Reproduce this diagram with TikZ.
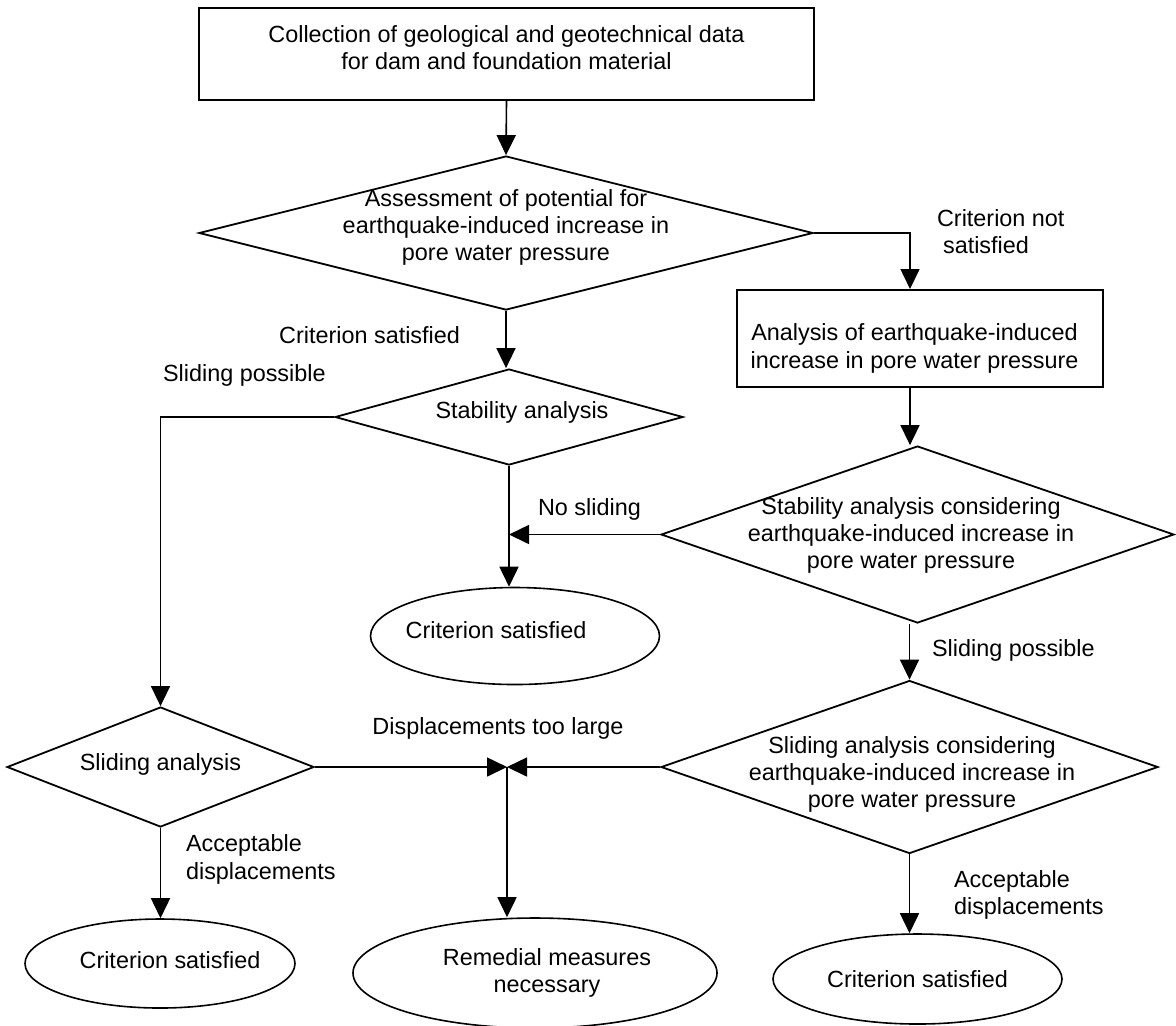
\documentclass[tikz,border=0pt]{standalone}
\usepackage{fontspec}
\setmainfont{Liberation Sans}
\usetikzlibrary{shapes.geometric, arrows.meta}

\begin{document}
\begin{tikzpicture}[x=0.5pt, y=-0.5pt,
		box/.style={rectangle, draw, line width=1pt, inner sep=0pt},
		dec/.style={diamond, draw, line width=0.9pt, inner sep=0pt},
		term/.style={ellipse, draw, line width=0.8pt, inner sep=0pt},
		txt/.style={align=center, font=\fontsize{11.7}{13.7}\selectfont},
		note/.style={align=left, font=\fontsize{11.7}{13.7}\selectfont},
		arr/.style={-{Triangle[length=10pt, width=9.5pt]}, line width=0.8pt}]
		
		\useasboundingbox (0,0) rectangle (1176,1025);
		
		% --- Top Box ---
		\node[box, minimum width=307.5pt, minimum height=46pt,
			label={[txt, yshift=3.2pt]center:Collection of geological and geotechnical data\\for dam and foundation material}] (collect) at (506.5,54) {};
		
		% --- Decisions ---
		\node[dec, minimum width=307pt, minimum height=77pt,
			label={[txt, yshift=2.75pt]center:Assessment of potential for\\earthquake-induced increase in\\pore water pressure}] (assess) at (506,233) {};
		\node[box, minimum width=183pt, minimum height=48.5pt,
			label={[txt, xshift=-2.75pt, yshift=-5pt]center:Analysis of earthquake-induced\\increase in pore water pressure}] (analysis) at (920,338.5) {};
		\node[dec, minimum width=174pt, minimum height=48pt,
			label={[txt, xshift=6.5pt, yshift=2.5pt]center:Stability analysis}] (stab) at (509,417) {};
		\node[dec, minimum width=256.5pt, minimum height=88.5pt,
			label={[txt, xshift=-3.25pt, yshift=-0.5pt]center:Stability analysis considering\\earthquake-induced increase in\\pore water pressure}] (stabpwp) at (917.5,534.5) {};
		\node[dec, minimum width=153.5pt, minimum height=60pt,
			label={[txt, yshift=1.5pt]center:Sliding analysis}] (slide) at (160.5,767) {};
		\node[dec, minimum width=248.5pt, minimum height=86.5pt,
			label={[txt, xshift=1.25pt, yshift=-3.75pt]center:Sliding analysis considering\\earthquake-induced increase in\\pore water pressure}] (slidepwp) at (909.5,767) {};
		
		% --- End States ---
		\node[term, minimum width=144.5pt, minimum height=48.5pt,
			label={[txt, xshift=-9.5pt, yshift=3pt]center:Criterion satisfied}] (critA) at (515,636) {};
		\node[term, minimum width=135pt, minimum height=44.5pt,
			label={[txt, xshift=5pt, yshift=1.75pt]center:Criterion satisfied}] (critB) at (160,963.5) {};
		\node[term, minimum width=182pt, minimum height=55pt,
			label={[txt, xshift=6pt]center:Remedial measures\\necessary}] (remedy) at (535,973) {};
		\node[term, minimum width=144.5pt, minimum height=45pt,
			label={[txt]center:Criterion satisfied}] (critC) at (917.5,979) {};
		
		% --- Branch Labels ---
		\node[note, anchor=east] (lsat) at (467,335) {Criterion satisfied};
		\node[note, anchor=west] (lnotsat) at (930,231.5) {Criterion not\\\hspace*{3pt}satisfied};
		\node[note, anchor=west] (lslideA) at (156,375) {Sliding possible};
		\node[note, anchor=west] (lnoslide) at (531,509) {No sliding};
		\node[note, anchor=west] (lslideB) at (925,650) {Sliding possible};
		\node[txt] (ltoolarge) at (498,728) {Displacements too large};
		\node[note, anchor=west] (laccA) at (179,859.5) {Acceptable\\displacements};
		\node[note, anchor=west] (laccB) at (947,895) {Acceptable\\displacements};
		
		% --- Connectors ---
		\coordinate (jn) at (507,767);
		\draw[arr] (collect.south) -- (assess.north);
		\draw[arr] (assess.east) -| ([xshift=-5pt]analysis.north);
		\draw[arr] ([xshift=-5pt]analysis.south) -- ([xshift=-5pt]analysis.south |- stabpwp.north);
		\draw[arr] (assess.south) -- (assess.south |- stab.north);
		\draw[arr] (stab.west) -| (slide.north);
		\draw[arr] (stab.south) -- (stab.south |- critA.north);
		\draw[arr] (stabpwp.west) -- (stabpwp.west -| stab.south);
		\draw[arr] (slidepwp.north |- stabpwp.south) -- (slidepwp.north);
		\draw[arr] (slide.east) -- (slide.east -| jn);
		\draw[arr] (slidepwp.west) -- (slidepwp.west -| jn);
		\draw[arr] (jn) -- (jn |- remedy.north);
		\draw[arr] (slide.south) -- (slide.south |- critB.north);
		\draw[arr] (slidepwp.south) -- (slidepwp.south |- critC.north);
		
	\end{tikzpicture}
\end{document}
